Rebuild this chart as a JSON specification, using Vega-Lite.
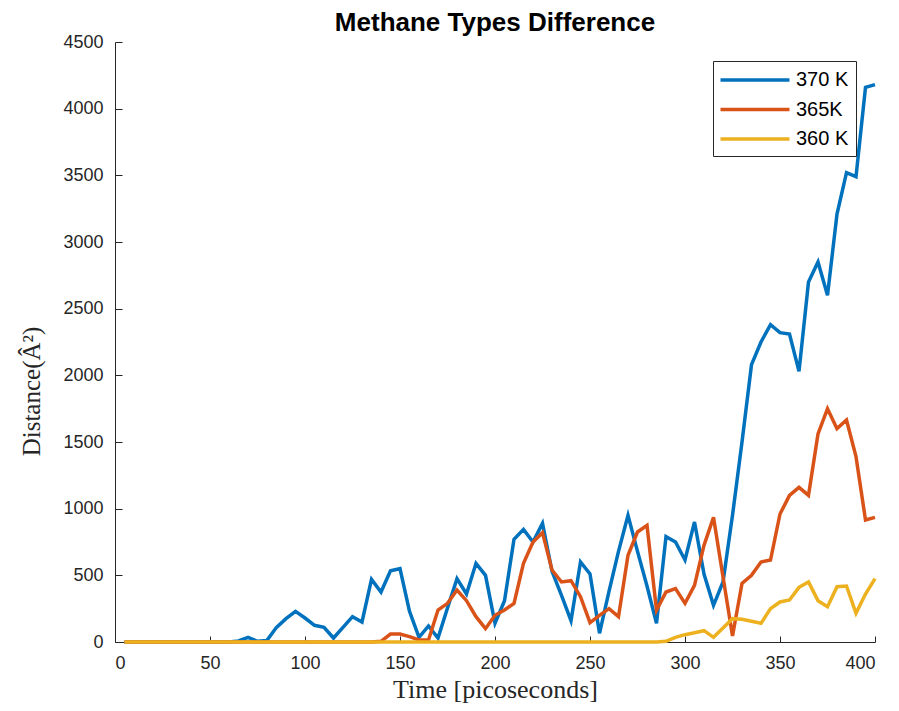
{
  "$schema": "https://vega.github.io/schema/vega-lite/v6.json",
  "width": 760,
  "height": 600,
  "autosize": {"type": "none"},
  "padding": {"left": 115, "top": 42, "right": 24, "bottom": 69},
  "background": "white",
  "title": {
    "text": "Methane Types Difference",
    "font": "Liberation Sans",
    "fontSize": 26,
    "fontWeight": "bold",
    "color": "#000000",
    "anchor": "middle",
    "offset": -3
  },
  "data": {
    "values": [
      {"t": 5, "370 K": 0, "365K": 0, "360 K": 0},
      {"t": 10, "370 K": 0, "365K": 0, "360 K": 0},
      {"t": 15, "370 K": 0, "365K": 0, "360 K": 0},
      {"t": 20, "370 K": 0, "365K": 0, "360 K": 0},
      {"t": 25, "370 K": 0, "365K": 0, "360 K": 0},
      {"t": 30, "370 K": 0, "365K": 0, "360 K": 0},
      {"t": 35, "370 K": 0, "365K": 0, "360 K": 0},
      {"t": 40, "370 K": 0, "365K": 0, "360 K": 0},
      {"t": 45, "370 K": 0, "365K": 0, "360 K": 0},
      {"t": 50, "370 K": 0, "365K": 0, "360 K": 0},
      {"t": 55, "370 K": 0, "365K": 0, "360 K": 0},
      {"t": 60, "370 K": 0, "365K": 0, "360 K": 0},
      {"t": 65, "370 K": 8, "365K": 0, "360 K": 0},
      {"t": 70, "370 K": 35, "365K": 0, "360 K": 0},
      {"t": 75, "370 K": 5, "365K": 0, "360 K": 0},
      {"t": 80, "370 K": 12, "365K": 0, "360 K": 0},
      {"t": 85, "370 K": 110, "365K": 0, "360 K": 0},
      {"t": 90, "370 K": 175, "365K": 0, "360 K": 0},
      {"t": 95, "370 K": 230, "365K": 0, "360 K": 0},
      {"t": 100, "370 K": 180, "365K": 0, "360 K": 0},
      {"t": 105, "370 K": 125, "365K": 0, "360 K": 0},
      {"t": 110, "370 K": 110, "365K": 0, "360 K": 0},
      {"t": 115, "370 K": 30, "365K": 0, "360 K": 0},
      {"t": 120, "370 K": 110, "365K": 0, "360 K": 0},
      {"t": 125, "370 K": 190, "365K": 0, "360 K": 0},
      {"t": 130, "370 K": 150, "365K": 0, "360 K": 0},
      {"t": 135, "370 K": 470, "365K": 0, "360 K": 0},
      {"t": 140, "370 K": 375, "365K": 5, "360 K": 0},
      {"t": 145, "370 K": 535, "365K": 60, "360 K": 0},
      {"t": 150, "370 K": 550, "365K": 60, "360 K": 0},
      {"t": 155, "370 K": 230, "365K": 40, "360 K": 0},
      {"t": 160, "370 K": 35, "365K": 15, "360 K": 0},
      {"t": 165, "370 K": 120, "365K": 15, "360 K": 0},
      {"t": 170, "370 K": 30, "365K": 240, "360 K": 0},
      {"t": 175, "370 K": 255, "365K": 290, "360 K": 0},
      {"t": 180, "370 K": 475, "365K": 390, "360 K": 0},
      {"t": 185, "370 K": 360, "365K": 310, "360 K": 0},
      {"t": 190, "370 K": 590, "365K": 190, "360 K": 0},
      {"t": 195, "370 K": 500, "365K": 100, "360 K": 0},
      {"t": 200, "370 K": 140, "365K": 200, "360 K": 0},
      {"t": 205, "370 K": 310, "365K": 240, "360 K": 0},
      {"t": 210, "370 K": 770, "365K": 290, "360 K": 0},
      {"t": 215, "370 K": 845, "365K": 590, "360 K": 0},
      {"t": 220, "370 K": 750, "365K": 750, "360 K": 0},
      {"t": 225, "370 K": 890, "365K": 820, "360 K": 0},
      {"t": 230, "370 K": 530, "365K": 540, "360 K": 0},
      {"t": 235, "370 K": 350, "365K": 450, "360 K": 0},
      {"t": 240, "370 K": 160, "365K": 460, "360 K": 0},
      {"t": 245, "370 K": 600, "365K": 340, "360 K": 0},
      {"t": 250, "370 K": 510, "365K": 145, "360 K": 0},
      {"t": 255, "370 K": 65, "365K": 200, "360 K": 0},
      {"t": 260, "370 K": 380, "365K": 250, "360 K": 0},
      {"t": 265, "370 K": 680, "365K": 190, "360 K": 0},
      {"t": 270, "370 K": 950, "365K": 650, "360 K": 0},
      {"t": 275, "370 K": 680, "365K": 825, "360 K": 0},
      {"t": 280, "370 K": 420, "365K": 875, "360 K": 0},
      {"t": 285, "370 K": 140, "365K": 238, "360 K": 0},
      {"t": 290, "370 K": 790, "365K": 375, "360 K": 5},
      {"t": 295, "370 K": 750, "365K": 400, "360 K": 35},
      {"t": 300, "370 K": 615, "365K": 290, "360 K": 55},
      {"t": 305, "370 K": 900, "365K": 425, "360 K": 70},
      {"t": 310, "370 K": 510, "365K": 725, "360 K": 85},
      {"t": 315, "370 K": 275, "365K": 935, "360 K": 35},
      {"t": 320, "370 K": 450, "365K": 490, "360 K": 105},
      {"t": 325, "370 K": 950, "365K": 45, "360 K": 175},
      {"t": 330, "370 K": 1500, "365K": 440, "360 K": 170},
      {"t": 335, "370 K": 2080, "365K": 500, "360 K": 155},
      {"t": 340, "370 K": 2250, "365K": 600, "360 K": 140},
      {"t": 345, "370 K": 2380, "365K": 615, "360 K": 250},
      {"t": 350, "370 K": 2320, "365K": 960, "360 K": 300},
      {"t": 355, "370 K": 2310, "365K": 1100, "360 K": 315},
      {"t": 360, "370 K": 2030, "365K": 1160, "360 K": 410},
      {"t": 365, "370 K": 2700, "365K": 1100, "360 K": 450},
      {"t": 370, "370 K": 2850, "365K": 1560, "360 K": 310},
      {"t": 375, "370 K": 2600, "365K": 1750, "360 K": 265},
      {"t": 380, "370 K": 3210, "365K": 1600, "360 K": 415},
      {"t": 385, "370 K": 3520, "365K": 1665, "360 K": 420},
      {"t": 390, "370 K": 3490, "365K": 1390, "360 K": 215},
      {"t": 395, "370 K": 4160, "365K": 915, "360 K": 360},
      {"t": 400, "370 K": 4180, "365K": 935, "360 K": 475}
    ]
  },
  "transform": [
    {"fold": ["370 K", "365K", "360 K"], "as": ["series", "distance"]}
  ],
  "mark": {"type": "line", "strokeWidth": 3.5, "strokeJoin": "miter", "strokeCap": "butt"},
  "encoding": {
    "x": {
      "field": "t",
      "type": "quantitative",
      "scale": {"domain": [0, 400], "nice": false},
      "axis": {
        "title": "Time [picoseconds]",
        "values": [0, 50, 100, 150, 200, 250, 300, 350, 400],
        "format": "d",
        "tickSize": -6,
        "labelPadding": 18,
        "titlePadding": 4,
        "titleFontSize": 26
      }
    },
    "y": {
      "field": "distance",
      "type": "quantitative",
      "scale": {"domain": [0, 4500], "nice": false},
      "axis": {
        "title": "Distance(Â²)",
        "values": [0, 500, 1000, 1500, 2000, 2500, 3000, 3500, 4000, 4500],
        "format": "d",
        "tickSize": -7,
        "labelPadding": 19,
        "titlePadding": 18,
        "titleY": 349
      }
    },
    "color": {
      "field": "series",
      "type": "nominal",
      "sort": ["370 K", "365K", "360 K"],
      "scale": {
        "domain": ["370 K", "365K", "360 K"],
        "range": ["#0072BD", "#D95319", "#EDB120"]
      },
      "legend": {
        "title": null,
        "orient": "none",
        "legendX": 598,
        "legendY": 19,
        "symbolType": "M-3.45,0H3.45",
        "symbolSize": 400,
        "symbolOffset": 23,
        "symbolStrokeWidth": 3.5,
        "labelFont": "Liberation Sans",
        "labelFontSize": 20,
        "labelColor": "#000000",
        "labelOffset": 29,
        "rowPadding": 7.5,
        "padding": 7,
        "strokeColor": "#262626",
        "fillColor": "white",
        "cornerRadius": 0
      }
    }
  },
  "config": {
    "view": {"stroke": null},
    "axis": {
      "grid": false,
      "domainColor": "#262626",
      "domainWidth": 1,
      "tickColor": "#262626",
      "tickWidth": 1,
      "labelColor": "#262626",
      "labelFont": "Liberation Sans",
      "labelFontSize": 18,
      "titleFont": "Liberation Serif",
      "titleFontSize": 25,
      "titleFontWeight": "normal",
      "titleColor": "#262626"
    }
  }
}
